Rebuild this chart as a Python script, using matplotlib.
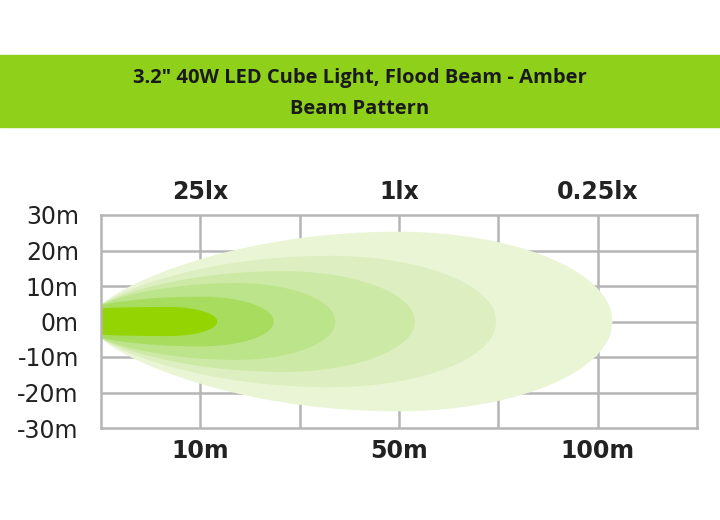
import numpy as np
import matplotlib
matplotlib.use("Agg")
import matplotlib.pyplot as plt
from matplotlib.patches import Rectangle

title_lines = ['3.2" 40W LED Cube Light, Flood Beam - Amber', 'Beam Pattern']
y_ticks = [30, 20, 10, 0, -10, -20, -30]
y_labels = ['30m', '20m', '10m', '0m', '-10m', '-20m', '-30m']
x_ticks = [1, 3, 5]
x_labels = ['10m', '50m', '100m']
top_labels = ['25lx', '1lx', '0.25lx']
# beam layers (outer to inner): reach (grid units), half-width (m)
reach = [5.15, 3.98, 3.16, 2.36, 1.74, 1.17]
half = [25.3, 18.5, 14.2, 10.8, 7.0, 4.1]
colors = ['#eaf5d6', '#ddefc0', '#cde9a6', '#bce48a', '#a8dc5e', '#93d402']

fig = plt.figure(figsize=(7.2, 5.2), dpi=100)
fig.patches.append(Rectangle((0, 1-127/520), 1, 72/520, transform=fig.transFigure,
                             color='#8fd11a', zorder=0))
fig.text(0.5, 1-78/520, title_lines[0], ha='center', va='center', fontsize=14.5,
         fontweight='bold', family='Open Sans', color='#1a1a1a')
fig.text(0.5, 1-109/520, title_lines[1], ha='center', va='center', fontsize=14.5,
         fontweight='bold', family='Open Sans', color='#1a1a1a')

ax = fig.add_axes([101/720, 1-428/520, 596/720, 213/520])
ax.set_xlim(0, 6)
ax.set_ylim(-30, 30)
for R, H, c in zip(reach, half, colors):
    cpk = 0.58 * R
    y0 = min(4.5, 0.9 * H)
    xl = np.linspace(0, cpk, 100)
    yl = y0 + (H - y0) * (1 - ((cpk - xl) / cpk) ** 2) ** 0.8
    xr = np.linspace(cpk, R, 150)
    yr = H * np.sqrt(np.clip(1 - ((xr - cpk) / (R - cpk)) ** 2, 0, 1))
    xs = np.concatenate([xl, xr])
    ys = np.concatenate([yl, yr])
    ax.fill(np.concatenate([xs, xs[::-1]]), np.concatenate([ys, -ys[::-1]]),
            color=c, lw=0, zorder=2)

for v in range(1, 6):
    ax.axvline(v, color='#b5b5b5', lw=1.8, zorder=1)
for v in y_ticks[1:-1]:
    ax.axhline(v, color='#b5b5b5', lw=1.8, zorder=1)
for s in ax.spines.values():
    s.set_color('#b5b5b5'); s.set_linewidth(1.8)
ax.set_yticks(y_ticks)
ax.set_yticklabels(y_labels, family='Liberation Sans Narrow', fontsize=17, color='#222222')
ax.set_xticks(x_ticks)
ax.set_xticklabels(x_labels, family='Liberation Sans Narrow', fontweight='bold',
                   fontsize=17, color='#222222')
ax.tick_params(length=0, pad=8)
ax.tick_params(axis='y', pad=16)
for xt, lab in zip(x_ticks, top_labels):
    ax.text(xt, 33, lab, ha='center', va='bottom', family='Liberation Sans Narrow',
            fontweight='bold', fontsize=17, color='#222222')
fig.savefig('out.png', dpi=100, facecolor='white')
